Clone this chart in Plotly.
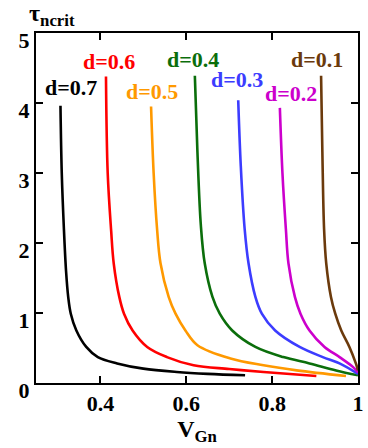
import plotly.graph_objects as go

# d values and colours
d_labels = ["d=0.7", "d=0.6", "d=0.5", "d=0.4", "d=0.3", "d=0.2", "d=0.1"]
colors = ["#000000", "#ff0000", "#ff9900", "#0b6e0b", "#3c3cff", "#cc00cc", "#6b3a0c"]

# curves: V_Gn (x) and tau_ncrit (y)
v_07 = [0.307, 0.310, 0.315, 0.320, 0.325, 0.331, 0.344, 0.367, 0.394, 0.439, 0.500, 0.578, 0.650, 0.737]
t_07 = [3.96, 3.00, 2.20, 1.60, 1.23, 0.99, 0.75, 0.515, 0.37, 0.28, 0.205, 0.157, 0.13, 0.11]

v_06 = [0.413, 0.417, 0.425, 0.431, 0.444, 0.455, 0.475, 0.509, 0.555, 0.617, 0.700, 0.780, 0.903]
t_06 = [4.38, 3.00, 2.18, 1.71, 1.23, 0.99, 0.75, 0.515, 0.37, 0.253, 0.20, 0.157, 0.10]

v_05 = [0.518, 0.524, 0.532, 0.540, 0.559, 0.575, 0.598, 0.626, 0.703, 0.780, 0.857, 0.972]
t_05 = [3.95, 3.00, 2.20, 1.71, 1.23, 0.99, 0.75, 0.54, 0.35, 0.253, 0.18, 0.10]

v_04 = [0.620, 0.626, 0.634, 0.643, 0.661, 0.678, 0.707, 0.761, 0.826, 0.887, 0.949, 1.000]
t_04 = [4.39, 3.30, 2.25, 1.71, 1.23, 0.99, 0.75, 0.515, 0.37, 0.28, 0.18, 0.11]

v_03 = [0.721, 0.727, 0.736, 0.745, 0.761, 0.776, 0.807, 0.864, 0.918, 0.957, 1.000]
t_03 = [4.04, 3.10, 2.20, 1.71, 1.23, 0.99, 0.75, 0.515, 0.37, 0.28, 0.13]

v_02 = [0.818, 0.824, 0.832, 0.838, 0.853, 0.866, 0.887, 0.922, 0.957, 0.988, 1.000]
t_02 = [3.93, 3.00, 2.20, 1.71, 1.23, 0.99, 0.75, 0.515, 0.37, 0.23, 0.15]

v_01 = [0.914, 0.917, 0.921, 0.926, 0.937, 0.947, 0.961, 0.980, 0.995, 1.000]
t_01 = [4.39, 3.30, 2.20, 1.71, 1.23, 0.99, 0.75, 0.515, 0.28, 0.18]

x_ticks = [0.4, 0.6, 0.8, 1.0]
x_ticktext = ["0.4", "0.6", "0.8", "1"]
y_ticks = [0, 1, 2, 3, 4, 5]

curves = [(v_07, t_07), (v_06, t_06), (v_05, t_05), (v_04, t_04),
          (v_03, t_03), (v_02, t_02), (v_01, t_01)]

# where the d= labels sit (data coords)
label_pos = [(0.331, 4.22), (0.421, 4.60), (0.520, 4.17), (0.615, 4.62),
             (0.717, 4.33), (0.843, 4.14), (0.905, 4.62)]

font = "Liberation Serif"

fig = go.Figure()

for (xs, ys), c in zip(curves, colors):
    fig.add_trace(go.Scatter(
        x=xs, y=ys, mode="lines",
        line=dict(color=c, width=2.6, shape="spline", smoothing=1.0),
        hoverinfo="skip",
    ))

for (lx, ly), txt, c in zip(label_pos, d_labels, colors):
    fig.add_annotation(x=lx, y=ly, text="<b>" + txt + "</b>", showarrow=False,
                       font=dict(family=font, size=22, color=c),
                       xanchor="center", yanchor="middle")

# y axis title
fig.add_annotation(xref="paper", yref="paper", x=0.0, y=1.0,
                   text="<b>τ<sub>ncrit</sub></b>", showarrow=False,
                   xanchor="left", yanchor="bottom", xshift=-9, yshift=1,
                   font=dict(family=font, size=24, color="black"))

fig.update_layout(
    width=368, height=448,
    margin=dict(l=36, r=4, t=33, b=65),
    showlegend=False,
    plot_bgcolor="white",
    paper_bgcolor="white",
    xaxis=dict(
        range=[0.25, 1.0], tickmode="array", tickvals=x_ticks,
        ticktext=["<b>" + t + "</b>" for t in x_ticktext],
        showline=True, linecolor="#000000", linewidth=2, mirror="ticks",
        ticks="inside", ticklen=7, tickwidth=2, tickcolor="#000000",
        showgrid=False, zeroline=False,
        tickfont=dict(family=font, size=22, color="black"),
        title=dict(text="<b>V<sub>Gn</sub></b>",
                   font=dict(family=font, size=24, color="black"), standoff=2),
    ),
    yaxis=dict(
        range=[0, 5], tickmode="array", tickvals=y_ticks,
        ticktext=["<b>" + str(t) + "</b>" for t in y_ticks],
        showline=True, linecolor="#000000", linewidth=2, mirror="ticks",
        ticks="inside", ticklen=7, tickwidth=2, tickcolor="#000000",
        showgrid=False, zeroline=False, ticklabelshift=7,
        tickfont=dict(family=font, size=22, color="black"),
    ),
)

# drop the browser's default 8px body margin
fig.write_html("out.html", config={"displayModeBar": False},
               post_script="document.body.style.margin='0';")
